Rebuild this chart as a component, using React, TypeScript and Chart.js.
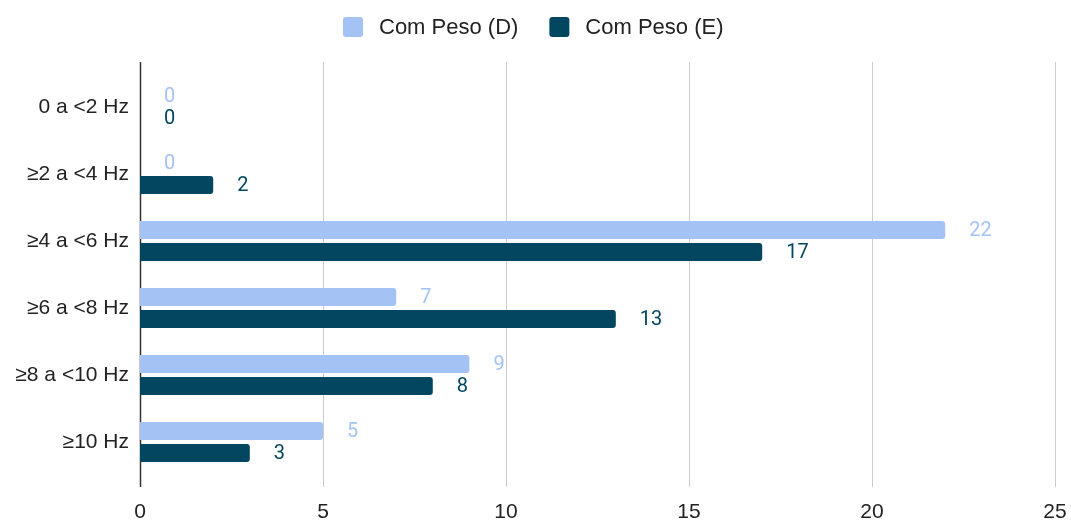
import React, { useEffect, useRef } from "react";
import { Chart, registerables } from "chart.js";

Chart.register(...registerables);

const categories = ["0 a <2 Hz", "≥2 a <4 Hz", "≥4 a <6 Hz", "≥6 a <8 Hz", "≥8 a <10 Hz", "≥10 Hz"];
const seriesD = [0, 0, 22, 7, 9, 5];
const seriesE = [0, 2, 17, 13, 8, 3];
const seriesNames = ["Com Peso (D)", "Com Peso (E)"];
const xTicks = [0, 5, 10, 15, 20, 25];

const LIGHT = "#a4c2f4";
const DARK = "#03465f";
const AXIS_FONT = "'Liberation Sans', Arial, sans-serif";
const LABEL_FONT = "Roboto, 'Noto Sans', sans-serif";

const gridPlugin = {
  id: "extendedGrid",
  beforeDatasetsDraw(chart: any) {
    const { ctx, chartArea, scales } = chart;
    const xs = scales.x;
    const top = chartArea.top - 11.5;
    const bottom = chartArea.bottom + 11.5;
    ctx.save();
    xTicks.forEach((v) => {
      const x = Math.round(xs.getPixelForValue(v)) + 0.5;
      ctx.beginPath();
      ctx.strokeStyle = v === 0 ? "#333333" : "#cccccc";
      ctx.lineWidth = v === 0 ? 1.5 : 1;
      ctx.moveTo(x, top);
      ctx.lineTo(x, bottom);
      ctx.stroke();
    });
    ctx.restore();
  },
};

const labelPlugin = {
  id: "valueLabels",
  afterDatasetsDraw(chart: any) {
    const { ctx } = chart;
    ctx.save();
    ctx.font = `20px ${LABEL_FONT}`;
    ctx.textAlign = "left";
    ctx.textBaseline = "middle";
    chart.data.datasets.forEach((ds: any, di: number) => {
      const meta = chart.getDatasetMeta(di);
      ctx.fillStyle = ds.backgroundColor;
      meta.data.forEach((el: any, i: number) => {
        const end = Math.max(el.x, el.base);
        ctx.fillText(String(ds.data[i]), end + 24, el.y + 1);
      });
    });
    ctx.restore();
  },
};

const legendPlugin = {
  id: "customLegend",
  afterDraw(chart: any) {
    const { ctx, width } = chart;
    ctx.save();
    ctx.font = `22px ${AXIS_FONT}`;
    ctx.textBaseline = "middle";
    ctx.textAlign = "left";
    const box = 20;
    const gapText = 16;
    const gapItem = 31;
    const widths = chart.data.datasets.map((ds: any) => ctx.measureText(ds.label).width);
    let total = 0;
    widths.forEach((w: number, i: number) => {
      total += box + gapText + w + (i < widths.length - 1 ? gapItem : 0);
    });
    let x = Math.round((width - total) / 2) - 2;
    const cy = 27;
    chart.data.datasets.forEach((ds: any, i: number) => {
      ctx.fillStyle = ds.backgroundColor;
      ctx.beginPath();
      (ctx as any).roundRect(x, cy - box / 2, box, box, 3);
      ctx.fill();
      ctx.fillStyle = "#222222";
      ctx.fillText(ds.label, x + box + gapText, cy + 1);
      x += box + gapText + widths[i] + gapItem;
    });
    ctx.restore();
  },
};

export default function App() {
  const ref = useRef<HTMLCanvasElement | null>(null);
  useEffect(() => {
    if (!ref.current) return;
    const chart = new Chart(ref.current, {
      type: "bar",
      data: {
        labels: categories,
        datasets: [
          {
            label: seriesNames[0],
            data: seriesD,
            backgroundColor: LIGHT,
            borderRadius: 3,
            categoryPercentage: 0.657,
            barPercentage: 0.818,
          },
          {
            label: seriesNames[1],
            data: seriesE,
            backgroundColor: DARK,
            borderRadius: 3,
            categoryPercentage: 0.657,
            barPercentage: 0.818,
          },
        ],
      },
      options: {
        indexAxis: "y",
        animation: false,
        responsive: false,
        maintainAspectRatio: false,
        layout: { padding: { top: 73.5, right: 16, left: 0, bottom: 0 } },
        plugins: {
          legend: { display: false },
          tooltip: { enabled: false },
        },
        scales: {
          x: {
            min: 0,
            max: 25,
            grid: { display: false, drawTicks: false },
            border: { display: false },
            afterBuildTicks(scale: any) {
              scale.ticks = xTicks.map((v) => ({ value: v }));
            },
            afterFit(scale: any) {
              scale.height = 44.5;
              scale.paddingLeft = 0;
              scale.paddingRight = 0;
            },
            ticks: {
              color: "#222222",
              font: { family: AXIS_FONT, size: 21 },
              padding: 24,
              maxRotation: 0,
            },
          },
          y: {
            grid: { display: false, drawTicks: false },
            border: { display: false },
            afterFit(scale: any) {
              scale.width = 140;
              scale.paddingTop = 0;
              scale.paddingBottom = 0;
            },
            ticks: {
              color: "#222222",
              font: { family: AXIS_FONT, size: 21 },
              padding: 11,
            },
          },
        },
      },
      plugins: [gridPlugin, labelPlugin, legendPlugin],
    });
    return () => chart.destroy();
  }, []);
  return (
    <div style={{ position: "fixed", left: 0, top: 0, width: 1071, height: 520, background: "#fff" }}>
      <canvas ref={ref} width={1071} height={520} style={{ width: 1071, height: 520 }} />
    </div>
  );
}
